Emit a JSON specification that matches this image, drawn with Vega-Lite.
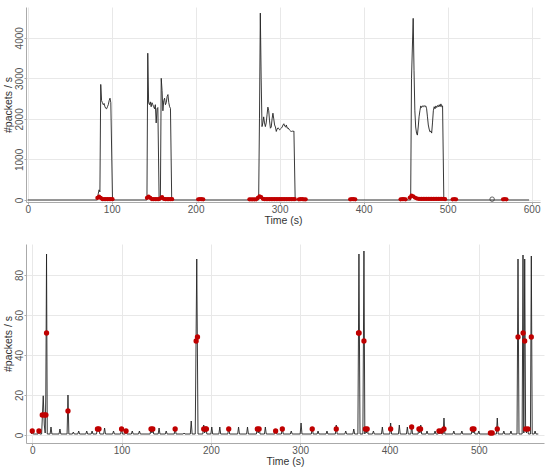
{
  "$schema": "https://vega.github.io/schema/vega-lite/v6.json",
  "padding": {"left": 3, "top": 7, "right": 8, "bottom": 2},
  "spacing": 18,
  "config": {
    "font": "Liberation Sans",
    "view": {"stroke": null},
    "axis": {
      "labelColor": "#555",
      "labelFontSize": 10,
      "titleColor": "#333",
      "titleFontSize": 10.5,
      "titleFontWeight": "normal",
      "gridColor": "#e8e8e8",
      "domainColor": "#aaa",
      "tickColor": "#aaa",
      "tickSize": 2,
      "labelPadding": 0,
      "titlePadding": 1,
      "format": "d"
    },
    "axisY": {"labelAngle": -90, "labelAlign": "center", "labelBaseline": "bottom"},
    "axisX": {"labelFlush": false}
  },
  "datasets": {
    "top_line": [
      {"t":0,"v":0},{"t":83,"v":0},{"t":84,"v":150},{"t":85,"v":250},{"t":86,"v":200},{"t":87,"v":2850},{"t":88,"v":2450},{"t":89,"v":2400},{"t":90,"v":2350},{"t":91,"v":2380},{"t":92,"v":2300},{"t":93,"v":2260},{"t":94,"v":2250},{"t":95,"v":2300},{"t":96,"v":2350},{"t":97,"v":2450},{"t":98,"v":2510},{"t":99,"v":2400},{"t":101,"v":0},
      {"t":142,"v":0},{"t":143,"v":3620},{"t":144,"v":2400},{"t":145,"v":2350},{"t":146,"v":2420},{"t":147,"v":2300},{"t":148,"v":2400},{"t":149,"v":2350},{"t":150,"v":2300},{"t":151,"v":2250},{"t":152,"v":2350},{"t":153,"v":1900},{"t":154,"v":2250},{"t":155,"v":2280},{"t":156.5,"v":0},
      {"t":158,"v":0},{"t":159,"v":3000},{"t":160,"v":2700},{"t":161,"v":2200},{"t":162,"v":2450},{"t":163,"v":2510},{"t":164,"v":2350},{"t":165,"v":2400},{"t":166,"v":2550},{"t":167,"v":2600},{"t":168,"v":2400},{"t":169,"v":2300},{"t":170,"v":2260},{"t":171.5,"v":0},
      {"t":275,"v":0},{"t":276,"v":2000},{"t":277,"v":4610},{"t":278,"v":3000},{"t":279,"v":1810},{"t":280,"v":1900},{"t":281,"v":2050},{"t":282,"v":1900},{"t":283,"v":1810},{"t":284,"v":1900},{"t":285,"v":2100},{"t":286,"v":2290},{"t":287,"v":2200},{"t":288,"v":1950},{"t":289,"v":1770},{"t":290,"v":1800},{"t":291,"v":2000},{"t":292,"v":2140},{"t":293,"v":2000},{"t":294,"v":1850},{"t":295,"v":1800},{"t":296,"v":1690},{"t":297,"v":1750},{"t":298,"v":1780},{"t":299,"v":1760},{"t":300,"v":1730},{"t":301,"v":1750},{"t":302,"v":1770},{"t":303,"v":1800},{"t":304,"v":1850},{"t":305,"v":1880},{"t":306,"v":1820},{"t":307,"v":1800},{"t":308,"v":1850},{"t":309,"v":1770},{"t":310,"v":1780},{"t":311,"v":1750},{"t":312,"v":1720},{"t":313,"v":1700},{"t":314,"v":1690},{"t":315,"v":1700},{"t":316,"v":1690},{"t":317,"v":1700},{"t":318.5,"v":0},
      {"t":456,"v":0},{"t":457,"v":3000},{"t":459,"v":4480},{"t":460,"v":3200},{"t":461,"v":2200},{"t":462,"v":1800},{"t":463,"v":1650},{"t":464,"v":1600},{"t":465,"v":1800},{"t":466,"v":2050},{"t":467,"v":2200},{"t":468,"v":2320},{"t":469,"v":2280},{"t":470,"v":2320},{"t":471,"v":2300},{"t":472,"v":2330},{"t":473,"v":2300},{"t":474,"v":2320},{"t":475,"v":2250},{"t":476,"v":2050},{"t":477,"v":1850},{"t":478,"v":1750},{"t":479,"v":1680},{"t":480,"v":1700},{"t":481,"v":1650},{"t":482,"v":1900},{"t":483,"v":2200},{"t":484,"v":2300},{"t":485,"v":2250},{"t":486,"v":2320},{"t":487,"v":2280},{"t":488,"v":2330},{"t":489,"v":2300},{"t":490,"v":2350},{"t":491,"v":2300},{"t":492,"v":2370},{"t":493,"v":2300},{"t":494,"v":2320},{"t":495.5,"v":0},{"t":597,"v":0}
    ],
    "top_red": [
      {"t":83,"v":50},{"t":85,"v":80},{"t":87,"v":50},{"t":89,"v":20},{"t":91,"v":20},{"t":93,"v":20},{"t":95,"v":20},{"t":97,"v":20},{"t":99,"v":20},{"t":101,"v":20},
      {"t":142,"v":50},{"t":144,"v":80},{"t":146,"v":50},{"t":148,"v":20},{"t":150,"v":20},{"t":152,"v":20},{"t":154,"v":20},{"t":156,"v":20},{"t":158,"v":40},{"t":160,"v":70},{"t":162,"v":30},{"t":164,"v":20},{"t":166,"v":20},{"t":168,"v":20},{"t":170,"v":20},{"t":172,"v":20},
      {"t":203,"v":15},{"t":205,"v":20},{"t":207,"v":20},{"t":209,"v":15},
      {"t":264,"v":15},{"t":266,"v":15},{"t":268,"v":15},{"t":270,"v":15},{"t":272,"v":15},
      {"t":274,"v":50},{"t":276,"v":90},{"t":278,"v":70},{"t":280,"v":30},{"t":282,"v":20},{"t":284,"v":20},{"t":286,"v":20},{"t":288,"v":20},{"t":290,"v":20},{"t":292,"v":20},{"t":294,"v":20},{"t":296,"v":20},{"t":298,"v":20},{"t":300,"v":20},{"t":302,"v":20},{"t":304,"v":20},{"t":306,"v":20},{"t":308,"v":20},{"t":310,"v":20},{"t":312,"v":20},{"t":314,"v":20},{"t":316,"v":20},{"t":318,"v":20},
      {"t":323,"v":15},{"t":325,"v":20},{"t":327,"v":20},{"t":329,"v":15},{"t":331,"v":15},
      {"t":384,"v":15},{"t":386,"v":20},{"t":388,"v":20},{"t":390,"v":15},
      {"t":444,"v":15},{"t":446,"v":20},{"t":448,"v":20},{"t":450,"v":15},
      {"t":455,"v":60},{"t":457,"v":110},{"t":459,"v":90},{"t":461,"v":60},{"t":463,"v":40},{"t":465,"v":30},{"t":467,"v":25},{"t":469,"v":25},{"t":471,"v":25},{"t":473,"v":25},{"t":475,"v":25},{"t":477,"v":25},{"t":479,"v":25},{"t":481,"v":25},{"t":483,"v":25},{"t":485,"v":25},{"t":487,"v":25},{"t":489,"v":25},{"t":491,"v":25},{"t":493,"v":25},{"t":495,"v":25},{"t":497,"v":20},
      {"t":506,"v":15},{"t":508,"v":20},{"t":510,"v":15},
      {"t":566,"v":15},{"t":568,"v":20},{"t":570,"v":15}
    ],
    "top_open": [{"t":553,"v":20}],
    "bot_line": [
      {"t":-1,"v":0.5},{"t":0,"v":2},{"t":1,"v":0.5},{"t":6.5,"v":0.5},{"t":7.5,"v":2},{"t":8.5,"v":0.5},
      {"t":10.5,"v":0.5},{"t":12.3,"v":19.6},{"t":13.5,"v":5},{"t":14.5,"v":1},{"t":15.2,"v":20},{"t":16,"v":90.5},{"t":16.8,"v":0.5},
      {"t":20,"v":0.5},{"t":21,"v":4},{"t":22,"v":0.5},{"t":30,"v":0.5},{"t":31,"v":3},{"t":32,"v":0.5},
      {"t":39,"v":0.5},{"t":40,"v":20},{"t":41,"v":0.5},{"t":45,"v":0.5},{"t":46,"v":1.5},{"t":47,"v":0.5},{"t":51,"v":0.5},{"t":52,"v":2},{"t":53,"v":0.5},
      {"t":60,"v":0.5},{"t":61,"v":2},{"t":62,"v":0.5},{"t":66,"v":0.5},{"t":67,"v":2},{"t":68,"v":0.5},{"t":72,"v":0.5},{"t":73,"v":4},{"t":74.7,"v":3},{"t":75.7,"v":0.5},
      {"t":80,"v":0.5},{"t":81,"v":3.5},{"t":82,"v":0.5},{"t":90,"v":0.5},{"t":91,"v":2},{"t":92,"v":0.5},{"t":99,"v":0.5},{"t":100,"v":3.5},{"t":101,"v":0.5},
      {"t":104,"v":0.5},{"t":105,"v":2},{"t":106,"v":0.5},{"t":111,"v":0.5},{"t":112,"v":2},{"t":113,"v":0.5},{"t":119,"v":0.5},{"t":120,"v":2},{"t":121,"v":0.5},
      {"t":132,"v":0.5},{"t":133,"v":3.5},{"t":134,"v":1},{"t":135,"v":3.5},{"t":136,"v":0.5},{"t":141,"v":0.5},{"t":142,"v":3.5},{"t":143,"v":0.5},
      {"t":149,"v":0.5},{"t":150,"v":2},{"t":151,"v":0.5},{"t":159,"v":0.5},{"t":160,"v":4},{"t":161,"v":0.5},{"t":169,"v":0.5},{"t":170,"v":1},{"t":171,"v":0.5},
      {"t":177,"v":0.5},{"t":178,"v":7},{"t":179,"v":0.5},{"t":182.5,"v":0.5},{"t":184.2,"v":88},{"t":185.6,"v":0.5},
      {"t":191,"v":0.5},{"t":192,"v":5},{"t":193,"v":1},{"t":194.5,"v":3.5},{"t":195.5,"v":0.5},{"t":200,"v":0.5},{"t":201,"v":4},{"t":202,"v":0.5},
      {"t":209,"v":0.5},{"t":210,"v":4},{"t":211,"v":0.5},{"t":219,"v":0.5},{"t":220,"v":4},{"t":221,"v":0.5},{"t":230,"v":0.5},{"t":231,"v":4},{"t":232,"v":0.5},
      {"t":240,"v":0.5},{"t":241,"v":4},{"t":242,"v":0.5},{"t":251,"v":0.5},{"t":252,"v":4},{"t":253,"v":1},{"t":254,"v":4},{"t":255,"v":0.5},
      {"t":260,"v":0.5},{"t":261,"v":4},{"t":262,"v":0.5},{"t":271.5,"v":0.5},{"t":272.5,"v":2},{"t":273.5,"v":0.5},
      {"t":279,"v":0.5},{"t":280,"v":4},{"t":281,"v":0.5},{"t":289,"v":0.5},{"t":290,"v":2},{"t":291,"v":0.5},{"t":300,"v":0.5},{"t":301,"v":6},{"t":302,"v":0.5},
      {"t":312.5,"v":0.5},{"t":313.5,"v":4},{"t":314.5,"v":0.5},{"t":319,"v":0.5},{"t":320,"v":2},{"t":321,"v":0.5},{"t":329,"v":0.5},{"t":330,"v":2},{"t":331,"v":0.5},
      {"t":339.4,"v":0.5},{"t":340.4,"v":5},{"t":341.4,"v":0.5},{"t":350,"v":0.5},{"t":351,"v":2},{"t":352,"v":0.5},{"t":359,"v":0.5},{"t":360,"v":3},{"t":361,"v":0.5},
      {"t":364.6,"v":0.5},{"t":365.8,"v":90.5},{"t":367,"v":0.5},{"t":370.2,"v":0.5},{"t":371.4,"v":92},{"t":372.4,"v":0.5},{"t":373,"v":3.5},{"t":374,"v":1},{"t":375,"v":4},{"t":376,"v":0.5},
      {"t":381,"v":0.5},{"t":382,"v":2},{"t":383,"v":0.5},{"t":391,"v":0.5},{"t":392,"v":4},{"t":393,"v":0.5},{"t":400.3,"v":0.5},{"t":401.3,"v":6},{"t":402.3,"v":0.5},
      {"t":410,"v":0.5},{"t":411,"v":5},{"t":412,"v":0.5},{"t":419,"v":0.5},{"t":420,"v":4},{"t":421,"v":0.5},{"t":424,"v":0.5},{"t":424.8,"v":5},{"t":425.8,"v":0.5},
      {"t":432,"v":0.5},{"t":433,"v":4},{"t":434,"v":1},{"t":435,"v":5},{"t":436,"v":0.5},{"t":441,"v":0.5},{"t":442,"v":2},{"t":443,"v":0.5},
      {"t":450,"v":0.5},{"t":451,"v":2},{"t":452,"v":0.5},{"t":454.5,"v":0.5},{"t":455.4,"v":2},{"t":456.4,"v":0.5},{"t":457.5,"v":2.5},{"t":458.5,"v":0.5},{"t":460,"v":0.5},{"t":461,"v":8.5},{"t":462,"v":0.5},
      {"t":471,"v":0.5},{"t":472,"v":2},{"t":473,"v":0.5},{"t":480,"v":0.5},{"t":481,"v":2},{"t":482,"v":0.5},{"t":491.7,"v":0.5},{"t":492.7,"v":4},{"t":493.6,"v":1},{"t":494.6,"v":3.5},{"t":495.6,"v":0.5},
      {"t":499,"v":0.5},{"t":500,"v":2},{"t":501,"v":0.5},{"t":512,"v":0.5},{"t":513,"v":1},{"t":515,"v":1},{"t":516,"v":0.5},{"t":519.7,"v":0.5},{"t":520.7,"v":8.5},{"t":521.7,"v":0.5},
      {"t":527,"v":0.5},{"t":528,"v":2},{"t":529,"v":0.5},{"t":535,"v":0.5},{"t":536,"v":2},{"t":537,"v":0.5},
      {"t":542.8,"v":0.5},{"t":543.9,"v":88},{"t":545,"v":0.5},{"t":548.5,"v":0.5},{"t":549.5,"v":90},{"t":550.4,"v":1},{"t":551.4,"v":88},{"t":552.4,"v":3},{"t":553.4,"v":1},{"t":554.5,"v":4},{"t":555.5,"v":0.5},
      {"t":557.8,"v":0.5},{"t":558.8,"v":89.5},{"t":559.8,"v":0.5},{"t":562,"v":0.5},{"t":563,"v":2},{"t":564,"v":0.5},{"t":566.6,"v":0.5}
    ],
    "bot_red": [
      {"t":0,"v":2},{"t":7.5,"v":2},{"t":11.2,"v":10},{"t":13.8,"v":10},{"t":15.3,"v":10},{"t":16,"v":51},{"t":40,"v":12},{"t":73,"v":3},{"t":74.7,"v":3},{"t":100,"v":3},{"t":105,"v":2},{"t":133,"v":3},{"t":135,"v":3},{"t":160,"v":3},{"t":183.5,"v":47},{"t":185,"v":49},{"t":192,"v":3},{"t":194,"v":3},{"t":195,"v":3},{"t":220,"v":3},{"t":252,"v":3},{"t":254,"v":3},{"t":272.5,"v":2},{"t":280,"v":3},{"t":313.5,"v":3},{"t":340.4,"v":3},{"t":365.3,"v":51},{"t":366,"v":51},{"t":371.4,"v":47},{"t":373,"v":3},{"t":375,"v":3},{"t":401.3,"v":3},{"t":424.8,"v":4},{"t":433,"v":3},{"t":434.8,"v":3},{"t":455.4,"v":2},{"t":458,"v":2},{"t":461,"v":3},{"t":492.7,"v":3},{"t":494.6,"v":3},{"t":513,"v":1},{"t":515,"v":1},{"t":520.7,"v":3},{"t":543.9,"v":49},{"t":549.6,"v":51},{"t":551.4,"v":47},{"t":558.8,"v":49},{"t":552.4,"v":3},{"t":555,"v":3}
    ]
  },
  "vconcat": [
    {
      "width": 514,
      "height": 195,
      "encoding": {
        "x": {"field": "t", "type": "quantitative", "title": "Time (s)", "scale": {"domain": [-2, 610], "nice": false, "zero": false}, "axis": {"values": [0,100,200,300,400,500,600]}},
        "y": {"field": "v", "type": "quantitative", "title": "#packets / s", "scale": {"domain": [-50, 4760], "nice": false, "zero": false}, "axis": {"values": [0,1000,2000,3000,4000]}}
      },
      "layer": [
        {"data": {"name": "top_line"}, "mark": {"type": "line", "color": "#222", "strokeWidth": 0.9}},
        {"data": {"name": "top_red"}, "mark": {"type": "circle", "color": "#c00000", "size": 18, "opacity": 1}},
        {"data": {"name": "top_open"}, "mark": {"type": "point", "color": "#222", "size": 20, "strokeWidth": 1}}
      ]
    },
    {
      "width": 518,
      "height": 199,
      "encoding": {
        "x": {"field": "t", "type": "quantitative", "title": "Time (s)", "scale": {"domain": [-7, 573], "nice": false, "zero": false}, "axis": {"values": [0,100,200,300,400,500]}},
        "y": {"field": "v", "type": "quantitative", "title": "#packets / s", "scale": {"domain": [-4, 95.5], "nice": false, "zero": false}, "axis": {"values": [0,20,40,60,80]}}
      },
      "layer": [
        {"data": {"name": "bot_line"}, "mark": {"type": "line", "color": "#222", "strokeWidth": 0.9}},
        {"data": {"name": "bot_red"}, "mark": {"type": "circle", "color": "#c00000", "size": 28, "opacity": 1}}
      ]
    }
  ]
}
